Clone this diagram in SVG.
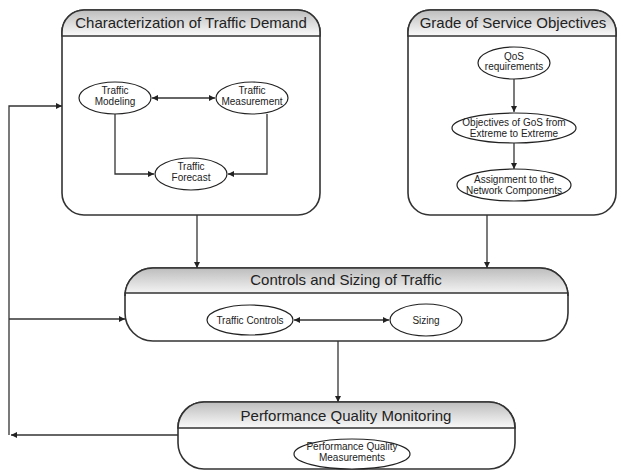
<svg xmlns="http://www.w3.org/2000/svg" width="618" height="471" viewBox="0 0 618 471">
<defs>
<linearGradient id="hg" x1="0" y1="0" x2="0" y2="1">
<stop offset="0" stop-color="#bdbdbd"/>
<stop offset="1" stop-color="#fafafa"/>
</linearGradient>
<marker id="ah" viewBox="0 0 10 10" refX="10" refY="5" markerWidth="7" markerHeight="6" orient="auto-start-reverse" markerUnits="userSpaceOnUse">
<path d="M0,0 L10,5 L0,10 Z" fill="#222"/>
</marker>
</defs>
<style>
.box{fill:#fff;stroke:#333;stroke-width:1.6}
.hdr{fill:url(#hg);stroke:#333;stroke-width:1.6}
.ttl{font-family:"Liberation Sans",Arial,sans-serif;font-size:15px;fill:#222;text-anchor:middle}
.el{fill:#fff;stroke:#222;stroke-width:1.2}
.lbl{font-family:"Liberation Sans",Arial,sans-serif;font-size:10px;fill:#222;text-anchor:middle}
.c{fill:none;stroke:#333;stroke-width:1.3}
.ca{fill:none;stroke:#333;stroke-width:1.3;marker-end:url(#ah)}
.cb{fill:none;stroke:#333;stroke-width:1.3;marker-end:url(#ah);marker-start:url(#ah)}
</style>
<rect width="618" height="471" fill="#fff"/>

<g id="characterization">
<rect class="box" x="62" y="10" width="258" height="205" rx="22"/>
<path class="hdr" d="M62,36 V32 A22,22 0 0 1 84,10 H298 A22,22 0 0 1 320,32 V36 Z"/>
<text class="ttl" x="191" y="28">Characterization of Traffic Demand</text>
</g>
<g id="traffic-modeling">
<ellipse class="el" cx="115" cy="98" rx="36" ry="16"/>
<text class="lbl" x="115" y="94">Traffic</text>
<text class="lbl" x="115" y="105">Modeling</text>
</g>
<g id="traffic-measurement">
<ellipse class="el" cx="252" cy="98" rx="36" ry="16"/>
<text class="lbl" x="252" y="94">Traffic</text>
<text class="lbl" x="252" y="105">Measurement</text>
</g>
<g id="traffic-forecast">
<ellipse class="el" cx="191" cy="174" rx="36" ry="16"/>
<text class="lbl" x="191" y="170">Traffic</text>
<text class="lbl" x="191" y="181">Forecast</text>
</g>

<g id="grade-of-service">
<rect class="box" x="408" y="10" width="208" height="205" rx="22"/>
<path class="hdr" d="M408,36 V32 A22,22 0 0 1 430,10 H594 A22,22 0 0 1 616,32 V36 Z"/>
<text class="ttl" x="513" y="28">Grade of Service Objectives</text>
</g>
<g id="qos-requirements">
<ellipse class="el" cx="514" cy="63" rx="36" ry="16"/>
<text class="lbl" x="514" y="60">QoS</text>
<text class="lbl" x="514" y="70">requirements</text>
</g>
<g id="objectives-gos">
<ellipse class="el" cx="514" cy="128" rx="62" ry="15"/>
<text class="lbl" x="514" y="126">Objectives of GoS from</text>
<text class="lbl" x="514" y="137">Extreme to Extreme</text>
</g>
<g id="assignment">
<ellipse class="el" cx="514" cy="185" rx="57" ry="16"/>
<text class="lbl" x="514" y="183">Assignment to the</text>
<text class="lbl" x="514" y="194">Network Components</text>
</g>

<g id="controls-sizing">
<rect class="box" x="125" y="268" width="443" height="73" rx="28"/>
<path class="hdr" d="M125,293 V296 A28,28 0 0 1 153,268 H540 A28,28 0 0 1 568,296 V293 Z"/>
<text class="ttl" x="346" y="285">Controls and Sizing of Traffic</text>
</g>
<g id="traffic-controls">
<ellipse class="el" cx="250" cy="320" rx="43" ry="15"/>
<text class="lbl" x="250" y="323.5">Traffic Controls</text>
</g>
<g id="sizing">
<ellipse class="el" cx="426" cy="320" rx="36" ry="16"/>
<text class="lbl" x="426" y="323.5">Sizing</text>
</g>

<g id="performance-monitoring">
<rect class="box" x="178" y="402" width="337" height="67" rx="26"/>
<path class="hdr" d="M178,428 A26,26 0 0 1 204,402 H489 A26,26 0 0 1 515,428 Z"/>
<text class="ttl" x="346" y="421">Performance Quality Monitoring</text>
</g>
<g id="performance-measurements">
<ellipse class="el" cx="352" cy="454" rx="58" ry="15"/>
<text class="lbl" x="352" y="450">Performance Quality</text>
<text class="lbl" x="352" y="461">Measurements</text>
</g>

<g id="connectors">
<line class="cb" x1="152" y1="98" x2="215" y2="98"/>
<path class="ca" d="M115,114 V174 H154"/>
<path class="ca" d="M267,114 V174 H228"/>
<line class="ca" x1="514" y1="79" x2="514" y2="112"/>
<line class="ca" x1="514" y1="143" x2="514" y2="169"/>
<line class="cb" x1="294" y1="320" x2="389" y2="320"/>
<line class="ca" x1="197" y1="215" x2="197" y2="268"/>
<line class="ca" x1="487" y1="215" x2="487" y2="268"/>
<line class="ca" x1="338" y1="341" x2="338" y2="402"/>
<line class="ca" x1="178" y1="435" x2="11" y2="435"/>
<path class="ca" d="M9,435 V106 H62"/>
<line class="ca" x1="9" y1="319" x2="125" y2="319"/>
</g>
</svg>
